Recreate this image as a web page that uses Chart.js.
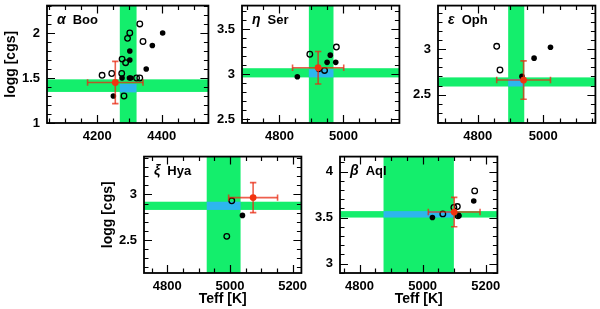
<!DOCTYPE html>
<html>
<head>
<meta charset="utf-8">
<script src="https://cdn.jsdelivr.net/npm/chart.js@4"></script>
<style>
  html, body { margin: 0; padding: 0; background: #fff; }
  #wrap { position: relative; width: 600px; height: 309px; overflow: hidden; }
  #wrap canvas { position: absolute; }
</style>
</head>
<body>
<div id="wrap"></div>
<script>
// panel labels
const starNames = ["α Boo", "η Ser", "ε Oph", "ξ Hya", "β Aql"];

// axis limits per panel [min, max]
const teffLimits = [[4044, 4545], [4683, 5175], [4679, 5159], [4726, 5228], [4738, 5237]];
const loggLimits = [[1.0, 2.304], [2.457, 3.76], [2.189, 3.476], [2.138, 3.415], [2.897, 4.163]];
// tick spacing: minor step, labelled step
const teffSteps = [50, 200];
const loggSteps = [0.1, 0.5];

// literature values: open and filled symbols, [Teff, logg]
const booOpen = [[4332, 2.10], [4301, 2.00], [4294, 1.94], [4342, 1.905], [4277, 1.71], [4288, 1.67],
  [4215, 1.53], [4245, 1.55], [4276, 1.55], [4322, 1.50], [4332, 1.50], [4283, 1.30]];
const booFilled = [[4403, 2.00], [4371, 1.86], [4301, 1.80], [4301, 1.70], [4352, 1.60],
  [4277, 1.50], [4300, 1.50], [4304, 1.50], [4250, 1.30]];
const serOpen = [[4895, 3.22], [4941, 3.04], [4978, 3.30]];
const serFilled = [[4856, 2.97], [4959, 3.21], [4949, 3.13], [4976, 3.13], [4923, 3.05]];
const ophOpen = [[4858, 3.03], [4868, 2.77]];
const ophFilled = [[4935, 2.70], [4972, 2.90], [5022, 3.02]];
const hyaOpen = [[5006, 2.93], [4990, 2.54]];
const hyaFilled = [[5040, 2.77]];
const aqlOpen = [[5165, 3.79], [5110, 3.62], [5099, 3.61], [5064, 3.54], [5112, 3.52]];
const aqlFilled = [[5162, 3.68], [5115, 3.52], [5031, 3.50]];

// this work: [Teff, logg, errTeff, errLogg]
const redPoints = [[4256, 1.45, 86, 0.235], [4921, 3.07, 80, 0.18], [4940, 2.66, 82, 0.21],
  [5074, 2.965, 78, 0.165], [5100, 3.56, 82, 0.16]];

// allowed ranges (green) [lo, hi]
const teffBands = [[4270, 4322], [4892, 4969], [4893, 4942], [4926, 5034], [4876, 5099]];
const loggBands = [[1.345, 1.485], [2.963, 3.065], [2.589, 2.689], [2.83, 2.92], [3.50, 3.57]];
// overlap region (blue) logg [lo, hi]
const blueLogg = [[1.34, 1.435], [2.963, 3.055], [2.589, 2.672], [2.83, 2.92], [3.50, 3.57]];

const openSets = [booOpen, serOpen, ophOpen, hyaOpen, aqlOpen];
const filledSets = [booFilled, serFilled, ophFilled, hyaFilled, aqlFilled];

// plot areas on the page [left, top, right, bottom]
const boxes = [[47, 3.3, 210.5, 123.3], [242, 3.3, 402, 123.3], [438, 3.3, 598, 123.3],
  [144, 154, 304, 273], [340, 154, 500, 273]];
const AXIS_W = 46, AXIS_H = 36, PAD = 3;

const GREEN = "#14ee6c";
const BLUE = "#2db6ee";
const RED = "#f2330f";
const ERR = "rgba(232, 42, 18, 0.75)";
const FONT = "'Liberation Sans', Arial, sans-serif";

function toXY(list) {
  return list.map(p => ({ x: p[0], y: p[1] }));
}

function isMultiple(v, step) {
  const q = v / step;
  return Math.abs(q - Math.round(q)) < 1e-6;
}

// ticks at every multiple of the minor step inside the axis range
function stepTicks(scale, step) {
  const out = [];
  for (let k = Math.ceil(scale.min / step - 1e-9); k * step <= scale.max + 1e-9; k++) {
    out.push({ value: Math.round(k * step * 1000) / 1000 });
  }
  scale.ticks = out;
}

const bandPlugin = {
  id: "bands",
  beforeDatasetsDraw(chart, args, opts) {
    const { ctx, chartArea: a, scales: { x, y } } = chart;
    ctx.save();
    ctx.beginPath();
    ctx.rect(a.left, a.top, a.width, a.height);
    ctx.clip();
    const x0 = x.getPixelForValue(opts.teff[0]);
    const x1 = x.getPixelForValue(opts.teff[1]);
    const y0 = y.getPixelForValue(opts.logg[1]);
    const y1 = y.getPixelForValue(opts.logg[0]);
    ctx.fillStyle = GREEN;
    ctx.fillRect(x0, a.top, x1 - x0, a.height);
    ctx.fillRect(a.left, y0, a.width, y1 - y0);
    const b0 = y.getPixelForValue(opts.blue[1]);
    const b1 = y.getPixelForValue(opts.blue[0]);
    ctx.fillStyle = BLUE;
    ctx.fillRect(x0, b0, x1 - x0, b1 - b0);
    ctx.restore();
  }
};

// box with inward ticks on all sides, plus the star name
const framePlugin = {
  id: "frame",
  afterDraw(chart, args, opts) {
    const { ctx, chartArea: a, scales: { x, y } } = chart;
    ctx.save();
    ctx.strokeStyle = "#000";
    ctx.lineWidth = 1.2;
    ctx.beginPath();
    x.ticks.forEach(t => {
      const px = Math.round(x.getPixelForValue(t.value)) + 0.5;
      const len = isMultiple(t.value, teffSteps[1]) ? 8 : 4.5;
      ctx.moveTo(px, a.bottom); ctx.lineTo(px, a.bottom - len);
      ctx.moveTo(px, a.top); ctx.lineTo(px, a.top + len);
    });
    y.ticks.forEach(t => {
      const py = Math.round(y.getPixelForValue(t.value)) + 0.5;
      const len = isMultiple(t.value, loggSteps[1]) ? 8 : 4.5;
      ctx.moveTo(a.left, py); ctx.lineTo(a.left + len, py);
      ctx.moveTo(a.right, py); ctx.lineTo(a.right - len, py);
    });
    ctx.stroke();
    ctx.lineWidth = 1.8;
    ctx.strokeRect(a.left, a.top, a.width, a.height);

    const [greek, name] = opts.name.split(" ");
    ctx.fillStyle = "#000";
    ctx.textBaseline = "middle";
    ctx.font = "italic bold 14px " + FONT;
    ctx.fillText(greek, a.left + 10, a.top + 15);
    const w = ctx.measureText(greek).width;
    ctx.font = "bold 13px " + FONT;
    ctx.fillText(name, a.left + 10 + w + 7, a.top + 15);
    ctx.restore();
  }
};

const wrap = document.getElementById("wrap");

boxes.forEach((box, i) => {
  const [L, T, R, B] = box;
  const canvas = document.createElement("canvas");
  const cw = Math.round(R - L + AXIS_W + PAD);
  const ch = Math.round(B - T + AXIS_H + PAD);
  canvas.width = cw;
  canvas.height = ch;
  canvas.style.width = cw + "px";
  canvas.style.height = ch + "px";
  canvas.style.left = (L - AXIS_W) + "px";
  canvas.style.top = (T - PAD) + "px";
  wrap.appendChild(canvas);

  const red = redPoints[i];
  const showX = i >= 3;
  const showY = i === 0 || i === 3;
  const tickFont = { family: FONT, size: 13, weight: "bold" };

  new Chart(canvas, {
    type: "scatter",
    data: {
      datasets: [
        {
          data: [{ x: red[0], y: red[1] }],
          pointRadius: 3.4,
          pointBackgroundColor: RED,
          pointBorderWidth: 0,
        },
        {
          data: [{ x: red[0] - red[2], y: red[1] }, { x: red[0] + red[2], y: red[1] }],
          showLine: true,
          borderColor: ERR,
          borderWidth: 1.6,
          pointStyle: "line",
          rotation: 90,
          pointRadius: 3.2,
          pointBorderColor: ERR,
          pointBorderWidth: 1.6,
        },
        {
          data: [{ x: red[0], y: red[1] - red[3] }, { x: red[0], y: red[1] + red[3] }],
          showLine: true,
          borderColor: ERR,
          borderWidth: 1.6,
          pointStyle: "line",
          rotation: 0,
          pointRadius: 3.2,
          pointBorderColor: ERR,
          pointBorderWidth: 1.6,
        },
        {
          data: toXY(filledSets[i]),
          pointRadius: 2.8,
          pointBackgroundColor: "#000",
          pointBorderWidth: 0,
        },
        {
          data: toXY(openSets[i]),
          pointRadius: 2.8,
          pointBackgroundColor: "rgba(0,0,0,0)",
          pointBorderColor: "#000",
          pointBorderWidth: 1.3,
        },
      ],
    },
    options: {
      responsive: false,
      animation: false,
      events: [],
      layout: { padding: { top: PAD, right: PAD, left: 0, bottom: 0 } },
      plugins: {
        legend: { display: false },
        tooltip: { enabled: false },
        bands: { teff: teffBands[i], logg: loggBands[i], blue: blueLogg[i] },
        frame: { name: starNames[i] },
      },
      scales: {
        x: {
          type: "linear",
          position: "bottom",
          min: teffLimits[i][0],
          max: teffLimits[i][1],
          grid: { display: false, drawTicks: false },
          border: { display: false },
          afterBuildTicks: s => stepTicks(s, teffSteps[0]),
          ticks: {
            autoSkip: false,
            maxRotation: 0,
            padding: 6,
            color: "#000",
            font: tickFont,
            callback: v => (isMultiple(v, teffSteps[1]) ? String(v) : ""),
          },
          title: {
            display: showX,
            text: "Teff [K]",
            color: "#000",
            font: { family: FONT, size: 14, weight: "bold" },
            padding: { top: 0, bottom: 1 },
          },
          afterFit(s) { s.height = AXIS_H; s.paddingLeft = 0; s.paddingRight = 0; },
        },
        y: {
          type: "linear",
          position: "left",
          min: loggLimits[i][0],
          max: loggLimits[i][1],
          grid: { display: false, drawTicks: false },
          border: { display: false },
          afterBuildTicks: s => stepTicks(s, loggSteps[0]),
          ticks: {
            autoSkip: false,
            padding: 7,
            color: "#000",
            font: tickFont,
            callback: v => (isMultiple(v, loggSteps[1]) ? String(Math.round(v * 10) / 10) : ""),
          },
          title: {
            display: showY,
            text: "logg [cgs]",
            color: "#000",
            font: { family: FONT, size: 14, weight: "bold" },
            padding: { top: 2, bottom: 0 },
          },
          afterFit(s) { s.width = AXIS_W; s.paddingTop = 0; s.paddingBottom = 0; },
        },
      },
    },
    plugins: [bandPlugin, framePlugin],
  });
});
</script>
</body>
</html>
